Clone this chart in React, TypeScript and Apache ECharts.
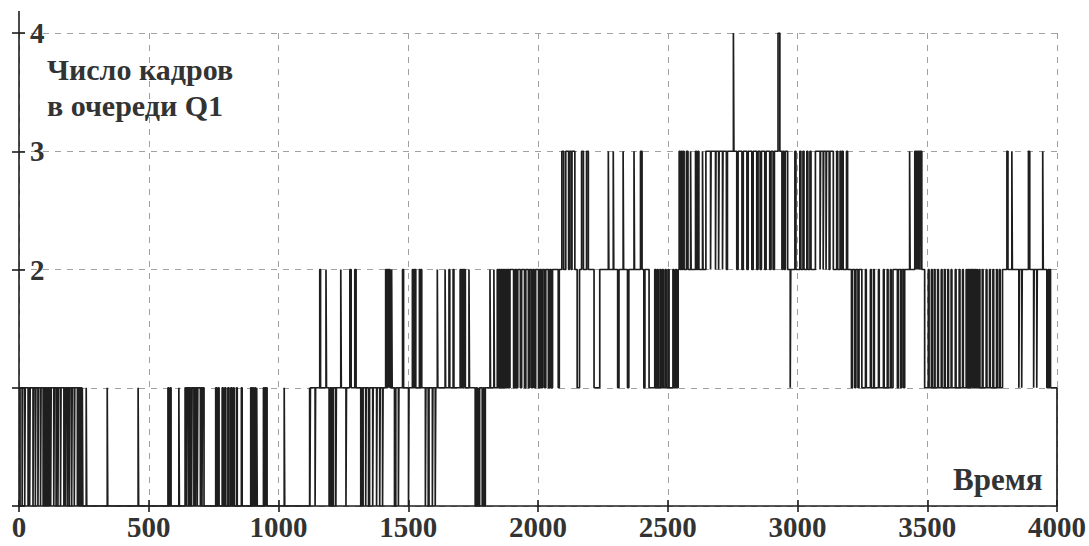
import React, { useEffect, useRef } from "react";
import * as echarts from "echarts";

// Queue length (frames in queue Q1) vs time.
const timeEnd = 4000;
const xTickStep = 500;
const yLevels = [0, 1, 2, 3, 4];

// [time, base level] – the level around which the queue oscillates
const q1Base: [number, number][] = [
  [0, 0],
  [1120, 1],
  [1843, 2],
];

// intervals during which the level is raised by one (nested intervals add up)
const q1Up: [number, number][] = [
  [4, 246],
  [259, 261], [340, 342], [459, 461], [574, 577], [583, 586], [616, 618],
  [640, 713],
  [758, 762], [767, 771], [783, 787], [793, 797], [805, 809], [816, 821], [826, 829], [838, 841],
  [857, 860], [893, 897], [901, 904], [909, 912], [916, 918], [942, 945], [948, 951], [953, 956],
  [1022, 1024],
  [1159, 1162], [1183, 1185], [1240, 1242], [1275, 1280], [1294, 1299], [1413, 1417], [1420, 1424],
  [1426, 1430], [1436, 1438], [1478, 1482], [1516, 1520], [1524, 1529], [1543, 1546], [1549, 1552],
  [1612, 1614], [1642, 1644], [1657, 1660], [1673, 1676], [1700, 1703], [1706, 1709], [1712, 1715],
  [1717, 1720], [1734, 1736], [1815, 1817], [1830, 1832],
  [2092, 2099], [2107, 2142], [2168, 2175], [2187, 2194], [2271, 2273], [2290, 2292], [2328, 2330],
  [2370, 2372], [2395, 2401],
  [2450, 2454], [2459, 2463], [2470, 2474], [2479, 2483], [2490, 2494], [2501, 2505], [2520, 2524], [2530, 2534],
  [2544, 2548], [2552, 2556], [2560, 2563], [2572, 2578], [2588, 2590], [2607, 2611], [2616, 2620], [2634, 2636],
  [2647, 2962],
  [2753, 2755], [2925, 2932],
  [2990, 2994], [3009, 3013], [3021, 3025], [3036, 3040], [3048, 3052], [3069, 3138], [3151, 3155],
  [3164, 3168], [3172, 3176], [3189, 3193],
  [3262, 3265], [3281, 3284], [3293, 3296], [3312, 3315], [3331, 3334], [3346, 3349], [3358, 3361],
  [3432, 3434], [3452, 3479],
  [3504, 3507], [3516, 3519], [3527, 3530], [3540, 3543], [3554, 3557], [3566, 3569], [3579, 3582],
  [3592, 3595], [3608, 3611], [3623, 3626], [3636, 3639], [3650, 3653], [3656, 3659], [3662, 3665],
  [3668, 3671], [3673, 3676], [3679, 3682], [3685, 3688], [3691, 3694], [3700, 3703], [3712, 3715],
  [3727, 3730], [3740, 3743], [3753, 3756], [3767, 3770], [3778, 3781],
  [3807, 3811], [3826, 3828], [3890, 3895], [3945, 3947],
  [3966, 3969], [3972, 3975],
];

// intervals during which the level is lowered by one
const q1Down: [number, number][] = [
  [12, 14], [22, 24], [35, 37], [41, 43], [54, 56], [63, 65], [73, 75], [83, 85], [93, 95], [99, 101],
  [104, 106], [110, 112], [116, 118], [122, 124], [134, 136], [143, 145], [150, 152], [160, 162],
  [173, 175], [179, 181], [187, 189], [194, 196], [203, 205], [213, 215], [225, 227], [231, 233],
  [237, 239], [242, 244],
  [646, 648], [654, 656], [659, 661], [665, 667], [674, 676], [680, 682], [687, 689], [699, 701], [705, 707],
  [1121, 1123], [1141, 1143], [1195, 1199], [1203, 1206], [1209, 1212], [1221, 1223], [1260, 1262],
  [1317, 1320], [1323, 1326], [1336, 1338], [1347, 1351], [1363, 1365], [1378, 1380], [1390, 1392],
  [1401, 1403], [1447, 1452], [1462, 1464], [1501, 1503], [1566, 1568], [1577, 1580], [1593, 1595],
  [1604, 1606], [1758, 1762], [1766, 1770], [1772, 1775], [1785, 1789], [1793, 1797],
  [1847, 1850], [1854, 1857], [1861, 1864], [1868, 1871], [1875, 1878], [1882, 1885], [1889, 1892],
  [1906, 1911], [1917, 1922], [1932, 1937], [1948, 1953], [1963, 1968], [1975, 1980], [1986, 1991],
  [2002, 2007], [2013, 2018], [2025, 2030], [2040, 2045], [2051, 2056], [2078, 2082],
  [2118, 2121], [2128, 2131],
  [2151, 2160], [2216, 2238], [2307, 2312], [2345, 2350], [2408, 2412], [2428, 2540],
  [2665, 2667], [2684, 2686], [2696, 2698], [2711, 2713], [2726, 2730], [2766, 2771], [2786, 2791],
  [2805, 2810], [2824, 2829], [2843, 2848], [2856, 2861], [2874, 2879], [2893, 2898], [2906, 2911],
  [2940, 2944], [2949, 2953],
  [2972, 2974],
  [3087, 3089], [3099, 3101], [3110, 3112], [3122, 3125],
  [3208, 3212], [3221, 3225], [3233, 3237], [3248, 3368], [3385, 3389], [3398, 3402], [3409, 3413],
  [3457, 3459], [3462, 3464], [3467, 3469], [3472, 3474],
  [3490, 3790],
  [3853, 3855], [3864, 3866], [3910, 3912], [3922, 3924],
  [3961, 4000],
];

const titleLines = ["Число кадров", "в очереди Q1"];
const xTitle = "Время";

function buildSteps(): [number, number][] {
  const ev: [number, number][] = [];
  let prev = 0;
  for (const [t, l] of q1Base) {
    ev.push([t, l - prev]);
    prev = l;
  }
  for (const [s, e] of q1Up) {
    ev.push([s, 1]);
    ev.push([e, -1]);
  }
  for (const [s, e] of q1Down) {
    ev.push([s, -1]);
    ev.push([e, 1]);
  }
  ev.sort((a, b) => a[0] - b[0]);
  const pts: [number, number][] = [[0, 0]];
  let level = 0;
  let i = 0;
  while (i < ev.length && ev[i][0] < timeEnd) {
    const t = ev[i][0];
    let nl = level;
    while (i < ev.length && ev[i][0] === t) {
      nl += ev[i][1];
      i++;
    }
    if (nl !== level) {
      pts.push([t, level], [t, nl]);
      level = nl;
    }
  }
  pts.push([timeEnd, level], [timeEnd, 0]);
  return pts;
}

const FONT = "'Liberation Serif', 'Times New Roman', serif";
const INK = "#1e1e1e";
const TEXT = "#333";

export default function App() {
  const ref = useRef<HTMLDivElement>(null);
  useEffect(() => {
    if (!ref.current) return;
    const chart = echarts.init(ref.current, undefined, { renderer: "svg" });
    const tickStyle = { color: INK, width: 1.6 };
    const gridStyle = { color: "#a0a0a0", type: [6, 6] as any, width: 1 };
    chart.setOption({
      animation: false,
      backgroundColor: "#fff",
      grid: { left: 19, right: 26, top: 33, bottom: 40, containLabel: false },
      title: [
        {
          text: titleLines.join("\n"),
          left: 47,
          top: 51,
          padding: 0,
          textStyle: { fontFamily: FONT, fontWeight: "bold", fontSize: 30, lineHeight: 36, color: TEXT },
        },
        {
          text: xTitle,
          left: 953,
          top: 462,
          padding: 0,
          textStyle: { fontFamily: FONT, fontWeight: "bold", fontSize: 31, lineHeight: 34, color: TEXT },
        },
      ],
      xAxis: [
        {
          type: "value",
          min: 0,
          max: timeEnd,
          interval: xTickStep,
          axisLine: { show: true, lineStyle: tickStyle },
          axisTick: { show: true, length: 6, lineStyle: tickStyle },
          axisLabel: {
            fontFamily: FONT,
            fontWeight: "bold",
            fontSize: 29,
            color: TEXT,
            margin: 6,
            formatter: (v: number) => String(v),
          },
          splitLine: { show: true, lineStyle: gridStyle },
        },
        {
          type: "value",
          min: 0,
          max: timeEnd,
          interval: xTickStep,
          position: "bottom",
          axisLine: { show: false },
          axisTick: { show: true, inside: true, length: 6, lineStyle: tickStyle },
          axisLabel: { show: false },
          splitLine: { show: false },
        },
      ],
      yAxis: [
        {
          type: "value",
          min: yLevels[0],
          max: yLevels[yLevels.length - 1],
          interval: 1,
          axisLine: { show: true, lineStyle: tickStyle },
          axisTick: { show: true, length: 7, lineStyle: tickStyle },
          axisLabel: {
            inside: true,
            margin: 11,
            fontFamily: FONT,
            fontWeight: "bold",
            fontSize: 29,
            color: TEXT,
            formatter: (v: number) => (v >= 2 ? String(v) : ""),
          },
          splitLine: { show: true, lineStyle: gridStyle },
        },
        {
          type: "value",
          min: yLevels[0],
          max: yLevels[yLevels.length - 1],
          interval: 1,
          position: "left",
          axisLine: { show: false },
          axisTick: { show: true, inside: true, length: 6, lineStyle: tickStyle },
          axisLabel: { show: false },
          splitLine: { show: false },
        },
      ],
      series: [
        {
          type: "line",
          xAxisIndex: 0,
          yAxisIndex: 0,
          data: buildSteps(),
          symbol: "none",
          showSymbol: false,
          silent: true,
          lineStyle: { color: INK, width: 1.7 },
          z: 3,
        },
      ],
    });
    const top = chart.convertToPixel({ yAxisIndex: 0 }, yLevels[yLevels.length - 1]) as number;
    const left = chart.convertToPixel({ xAxisIndex: 0 }, 0) as number;
    chart.setOption({
      graphic: [
        {
          type: "line",
          shape: { x1: left, y1: top - 22, x2: left, y2: top },
          style: { stroke: INK, lineWidth: 1.6 },
        },
      ],
    });
    return () => chart.dispose();
  }, []);
  return (
    <div
      ref={ref}
      style={{ position: "fixed", left: 0, top: 0, width: 1089, height: 546, background: "#fff" }}
    />
  );
}
